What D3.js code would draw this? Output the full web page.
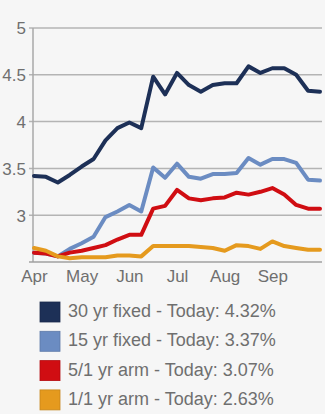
<!DOCTYPE html>
<html>
<head>
<meta charset="utf-8">
<script src="https://cdn.jsdelivr.net/npm/d3@7"></script>
<style>
  html, body { margin: 0; padding: 0; background: #f6f6f6; }
  svg { display: block; font-family: "Liberation Sans", Arial, Helvetica, sans-serif; }
</style>
</head>
<body>
<svg id="chart" width="325" height="414"></svg>
<script>
// Weekly mortgage rates, April through September
const monthLabels = ["Apr", "May", "Jun", "Jul", "Aug", "Sep"];
const monthTickIndex = [0, 4, 8, 12, 16, 20];

const fixed30 = [3.42, 3.41, 3.35, 3.43, 3.52, 3.60, 3.80, 3.93, 3.99, 3.93, 4.48, 4.29, 4.52,
                 4.39, 4.32, 4.39, 4.41, 4.41, 4.59, 4.52, 4.57, 4.57, 4.50, 4.33, 4.32];
const fixed15 = [2.60, 2.59, 2.56, 2.64, 2.70, 2.77, 2.98, 3.04, 3.11, 3.04, 3.51, 3.40, 3.55,
                 3.41, 3.39, 3.44, 3.44, 3.45, 3.61, 3.54, 3.60, 3.60, 3.56, 3.38, 3.37];
const arm51   = [2.60, 2.59, 2.56, 2.60, 2.62, 2.65, 2.68, 2.74, 2.79, 2.79, 3.07, 3.10, 3.27,
                 3.18, 3.16, 3.18, 3.19, 3.24, 3.22, 3.25, 3.29, 3.22, 3.11, 3.07, 3.07];
const arm11   = [2.65, 2.62, 2.56, 2.54, 2.55, 2.55, 2.55, 2.57, 2.57, 2.56, 2.67, 2.67, 2.67,
                 2.67, 2.66, 2.65, 2.62, 2.68, 2.67, 2.64, 2.72, 2.67, 2.65, 2.63, 2.63];

const seriesNames = ["30 yr fixed", "15 yr fixed", "5/1 yr arm", "1/1 yr arm"];
const seriesValues = [fixed30, fixed15, arm51, arm11];
const seriesColors = ["#1d3057", "#6b8cc2", "#d00d12", "#e59a1e"];
const yTicks = [3, 3.5, 4, 4.5, 5];

const svg = d3.select("#chart");
const weeks = d3.range(fixed30.length);

const x = d3.scalePoint().domain(weeks).range([34, 320]);
const y = d3.scaleLinear().domain([2.5, 5]).range([262, 28]);

// horizontal grid lines
svg.append("g")
  .selectAll("line")
  .data(yTicks)
  .join("line")
  .attr("x1", 29).attr("x2", 322)
  .attr("y1", d => y(d)).attr("y2", d => y(d))
  .attr("stroke", "#b4b4b4").attr("stroke-width", 1.5);

// y axis labels
const yAxis = d3.axisLeft(y).tickValues(yTicks).tickSize(0).tickPadding(0)
  .tickFormat(d3.format("~g"));
const yg = svg.append("g").attr("transform", "translate(26,0)").call(yAxis);
yg.select(".domain").remove();
yg.selectAll("text")
  .attr("fill", "#6f6f6f")
  .attr("font-size", 17)
  .attr("dy", "0.35em");

// left axis line and baseline
svg.append("line")
  .attr("x1", 33).attr("x2", 33)
  .attr("y1", y(5)).attr("y2", y(2.5))
  .attr("stroke", "#a8a8a8").attr("stroke-width", 1.5);
svg.append("line")
  .attr("x1", 29).attr("x2", 322)
  .attr("y1", y(2.5)).attr("y2", y(2.5))
  .attr("stroke", "#a0a0a0").attr("stroke-width", 1.5);

// x axis month labels
const xAxis = d3.axisBottom(x).tickValues(monthTickIndex).tickSize(0).tickPadding(0)
  .tickFormat((d, i) => monthLabels[i]);
const xg = svg.append("g").attr("transform", "translate(0,282)").call(xAxis);
xg.select(".domain").remove();
xg.selectAll("text")
  .attr("fill", "#6f6f6f")
  .attr("font-size", 17)
  .attr("dy", 0)
  .attr("y", 0);

// rate lines
const line = d3.line()
  .x((d, i) => x(i))
  .y(d => y(d));

svg.append("g")
  .selectAll("path")
  .data(seriesValues)
  .join("path")
  .attr("d", line)
  .attr("fill", "none")
  .attr("stroke", (d, i) => seriesColors[i])
  .attr("stroke-width", 4)
  .attr("stroke-linejoin", "round")
  .attr("stroke-linecap", "round");

// legend
const legend = svg.append("g")
  .selectAll("g")
  .data(seriesNames)
  .join("g")
  .attr("transform", (d, i) => `translate(40,${302 + i * 29.3})`);

legend.append("rect")
  .attr("width", 20).attr("height", 20)
  .attr("fill", (d, i) => seriesColors[i])
  .attr("stroke", (d, i) => d3.color(seriesColors[i]).darker(0.4))
  .attr("stroke-width", 0.8);

legend.append("text")
  .attr("x", 28).attr("y", 15)
  .attr("font-size", 18)
  .attr("fill", "#6f6f6f")
  .text((d, i) => {
    const vals = seriesValues[i];
    return `${d} - Today: ${vals[vals.length - 1].toFixed(2)}%`;
  });
</script>
</body>
</html>
